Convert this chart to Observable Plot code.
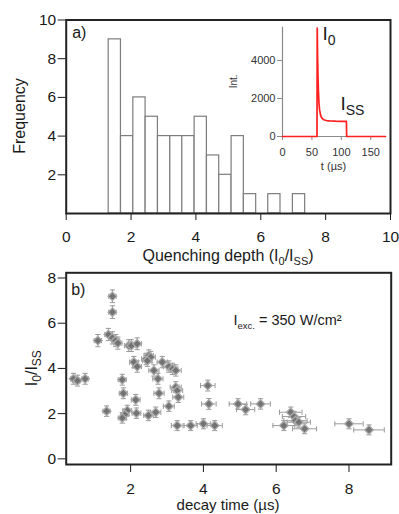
<!DOCTYPE html>
<html><head><meta charset="utf-8">
<script src="https://cdn.jsdelivr.net/npm/d3@7"></script>
<script src="https://cdn.jsdelivr.net/npm/@observablehq/plot@0.6"></script>
<style>
html,body{margin:0;padding:0;background:#fff;}
#wrap{position:relative;width:399px;height:514px;overflow:hidden;}
#wrap svg{position:absolute;overflow:visible;background:transparent;}
</style></head><body><div id="wrap"></div>
<script>
// ---------- data: (a) histogram of quenching depth ----------
const binStart = [1.31,1.69,2.07,2.45,2.83,3.21,3.58,3.96,4.34,4.72,5.10,5.48,5.86,6.23,6.61,6.99];
const binWidth = 0.378;
const counts   = [9,4,6,5,4,4,4,5,3,2,4,1,0,1,0,1];
const depthTicks = [0,2,4,6,8,10];
const freqTicks  = [2,4,6,8,10];

// ---------- data: inset trace ----------
const traceT = [0,58.6,59,59.6,60.3,61,62,63,64.5,66,68,71,75,80,90,100,108.6,109,175];
const traceI = [0,0,5700,4300,3200,2400,1750,1400,1150,1020,930,870,840,820,805,800,795,0,0];
const insetTTicks = [0,50,100,150];
const insetITicks = [0,2000,4000];
const insetDomainT = [0,175];
const insetDomainI = [0,5750];
const labelI0  = {t:68.8, i:5050};
const labelISS = {t:99.4, i:1368};

// ---------- data: (b) I0/ISS vs decay time ----------
const decay = [1.50,1.50,1.10,1.39,1.50,1.59,1.65,1.95,2.02,2.18,2.09,2.18,2.43,2.50,2.55,2.46,2.64,2.87,3.05,3.15,3.24,2.75,2.78,3.24,3.28,3.31,3.05,2.69,2.49,2.16,2.14,1.91,1.84,1.77,1.34,1.80,1.77,0.43,0.54,0.75,3.28,3.65,4.00,4.31,4.12,4.15,4.95,5.16,5.57,6.40,6.49,6.21,6.53,6.62,6.78,8.00,8.55];
const ratio = [7.19,6.49,5.23,5.50,5.35,5.23,5.12,5.01,5.01,5.09,4.28,4.08,4.42,4.57,4.50,4.34,3.91,4.28,4.08,3.98,3.91,3.54,2.90,3.17,3.02,2.73,2.33,2.06,1.92,2.02,2.61,2.14,1.96,1.81,2.11,2.90,3.50,3.54,3.46,3.54,1.47,1.47,1.55,1.47,3.24,2.43,2.43,2.18,2.43,2.06,1.87,1.47,1.69,1.62,1.33,1.55,1.28];
const decayErr = [0.10,0.10,0.10,0.10,0.10,0.11,0.11,0.12,0.12,0.12,0.12,0.12,0.13,0.13,0.13,0.13,0.14,0.14,0.15,0.15,0.15,0.14,0.14,0.15,0.15,0.15,0.15,0.14,0.13,0.12,0.12,0.12,0.11,0.11,0.10,0.11,0.11,0.08,0.08,0.09,0.16,0.18,0.20,0.21,0.20,0.20,0.24,0.25,0.27,0.31,0.32,0.30,0.32,0.32,0.33,0.39,0.42];
const ratioErr = [0.28,0.28,0.27,0.27,0.27,0.27,0.27,0.26,0.26,0.26,0.25,0.25,0.25,0.25,0.25,0.25,0.25,0.25,0.25,0.25,0.25,0.24,0.24,0.24,0.24,0.24,0.23,0.23,0.23,0.23,0.24,0.23,0.23,0.23,0.23,0.24,0.24,0.24,0.24,0.24,0.22,0.22,0.22,0.22,0.24,0.24,0.23,0.23,0.23,0.23,0.23,0.22,0.22,0.22,0.22,0.22,0.22];
const decayTicks = [2,4,6,8];
const ratioTicks = [0,2,4,6,8];
const labelExc = {x:4.84, y:5.9};

// ---------- helpers ----------
const FONT = '"Liberation Sans", Arial, Helvetica, sans-serif';
const wrap = document.getElementById("wrap");
function place(svg, left, top){ svg.style.left = left+"px"; svg.style.top = top+"px"; wrap.appendChild(svg); return svg; }
function richText(svg, {x, y, rotate=0, anchor="middle", size, parts, fill="#1a1a1a"}) {
  const t = d3.select(svg).append("text")
    .attr("transform", `translate(${x},${y}) rotate(${rotate})`)
    .attr("text-anchor", anchor)
    .attr("font-family", FONT).attr("font-size", size).attr("fill", fill);
  let shift = 0;
  for (const [str, kind, fs] of parts) {
    const target = kind === "sub" ? size*0.26 : kind === "sup" ? -size*0.38 : 0;
    t.append("tspan").attr("dy", target - shift).attr("font-size", fs || size).text(str);
    shift = target;
  }
}
const hCap = {draw(ctx){ ctx.moveTo(-2.6,0); ctx.lineTo(2.6,0); }};
const vCap = {draw(ctx){ ctx.moveTo(0,-2.6); ctx.lineTo(0,2.6); }};
const plain = d3.format("d");

// ---------- (a) ----------
const bars = binStart.map((s,i)=>({x1:s, x2:s+binWidth, n:counts[i]})).filter(d=>d.n>0);
const topPlot = Plot.plot({
  width:399, height:262,
  marginLeft:65.7, marginRight:9, marginTop:19.5, marginBottom:49,
  style:{fontFamily:FONT, fontSize:"15.5px", color:"#1a1a1a", background:"transparent", overflow:"visible"},
  x:{domain:[0,10]}, y:{domain:[0,10]},
  marks:[
    Plot.rect(bars, {x1:"x1", x2:"x2", y1:0, y2:"n", fill:"white", stroke:"#7d7d7d", strokeWidth:1.2}),
    Plot.axisX({ticks:depthTicks, tickSize:7, tickPadding:10, label:null}),
    Plot.axisY({ticks:freqTicks, tickSize:8, tickPadding:2, label:null}),
    Plot.frame({stroke:"#222", strokeWidth:2}),
    Plot.text(["a)"], {frameAnchor:"top-left", textAnchor:"start", lineAnchor:"top", dx:6, dy:7, fontSize:16})
  ]
});
place(topPlot, 0, 0);
richText(topPlot, {x:228, y:261, size:16, parts:[["Quenching depth (I"],["0","sub",11],["/I"],["SS","sub",11],[")"]]});
richText(topPlot, {x:25, y:116, rotate:-90, size:16, parts:[["Frequency"]]});

// ---------- inset ----------
const trace = traceT.map((t,i)=>({t, i:traceI[i]}));
const inset = Plot.plot({
  width:165, height:165,
  marginLeft:57, marginRight:5, marginTop:16.7, marginBottom:39,
  style:{fontFamily:FONT, fontSize:"11px", color:"#333", background:"transparent", overflow:"visible"},
  x:{domain:insetDomainT}, y:{domain:insetDomainI},
  marks:[
    Plot.ruleX([0], {stroke:"#8a8a8a", strokeWidth:1.2}),
    Plot.ruleY([0], {stroke:"#8a8a8a", strokeWidth:1.2}),
    Plot.axisX({ticks:insetTTicks, tickFormat:plain, tickSize:4, tickPadding:8, label:null, stroke:"#8a8a8a"}),
    Plot.axisY({ticks:insetITicks, tickFormat:plain, tickSize:5, tickPadding:2, label:null, stroke:"#8a8a8a"}),
    Plot.line(trace, {x:"t", y:"i", stroke:"#ff2020", strokeWidth:1.7})
  ]
});
place(inset, 225, 10);
{
  const ix = inset.scale("x"), iy = inset.scale("y");
  richText(inset, {x:ix.apply(labelI0.t), y:iy.apply(labelI0.i), anchor:"start", size:19, parts:[["I"],["0","sub",14]]});
  richText(inset, {x:ix.apply(labelISS.t), y:iy.apply(labelISS.i), anchor:"start", size:19, parts:[["I"],["SS","sub",14]]});
  richText(inset, {x:(ix.range[0]+ix.range[1])/2, y:160, size:11, fill:"#333", parts:[["t (µs)"]]});
  richText(inset, {x:12, y:(iy.range[0]+iy.range[1])/2, rotate:-90, size:10, fill:"#333", parts:[["Int."]]});
}

// ---------- (b) ----------
const pts = decay.map((x,i)=>({x, y:ratio[i], ex:decayErr[i], ey:ratioErr[i]}));
const errColor = "#9a9a9a";
const bottomPlot = Plot.plot({
  width:399, height:252,
  marginLeft:65.7, marginRight:8.3, marginTop:10.3, marginBottom:50,
  style:{fontFamily:FONT, fontSize:"15.5px", color:"#1a1a1a", background:"transparent", overflow:"visible"},
  x:{domain:[0.23,9.16]}, y:{domain:[-0.25,8.23]},
  marks:[
    Plot.ruleY(pts, {y:"y", x1:d=>d.x-d.ex, x2:d=>d.x+d.ex, stroke:errColor, strokeWidth:1}),
    Plot.ruleX(pts, {x:"x", y1:d=>d.y-d.ey, y2:d=>d.y+d.ey, stroke:errColor, strokeWidth:1}),
    Plot.dot(pts, {x:d=>d.x-d.ex, y:"y", symbol:vCap, r:3, fill:"none", stroke:errColor, strokeWidth:1}),
    Plot.dot(pts, {x:d=>d.x+d.ex, y:"y", symbol:vCap, r:3, fill:"none", stroke:errColor, strokeWidth:1}),
    Plot.dot(pts, {x:"x", y:d=>d.y+d.ey, symbol:hCap, r:3, fill:"none", stroke:errColor, strokeWidth:1}),
    Plot.dot(pts, {x:"x", y:d=>d.y-d.ey, symbol:hCap, r:3, fill:"none", stroke:errColor, strokeWidth:1}),
    Plot.dot(pts, {x:"x", y:"y", symbol:"diamond2", r:3.9, fill:"#737373", stroke:"#ababab", strokeWidth:1.3}),
    Plot.axisX({ticks:decayTicks, tickSize:8, tickPadding:10, label:null}),
    Plot.axisY({ticks:ratioTicks, tickSize:8, tickPadding:2, label:null}),
    Plot.frame({stroke:"#222", strokeWidth:2}),
    Plot.text(["b)"], {frameAnchor:"top-left", textAnchor:"start", lineAnchor:"top", dx:5, dy:11, fontSize:16})
  ]
});
place(bottomPlot, 0, 262);
{
  const bx = bottomPlot.scale("x"), by = bottomPlot.scale("y");
  richText(bottomPlot, {x:bx.apply(labelExc.x), y:by.apply(labelExc.y), anchor:"start", size:14.5, parts:[["I"],["exc.","sub",9.5],[" = 350 W/cm²"]]});
  richText(bottomPlot, {x:228, y:248, size:15, parts:[["decay time (µs)"]]});
  richText(bottomPlot, {x:37, y:(by.range[0]+by.range[1])/2, rotate:-90, size:16, parts:[["I"],["0","sub",12],["/I"],["SS","sub",12]]});
}
</script></body></html>
